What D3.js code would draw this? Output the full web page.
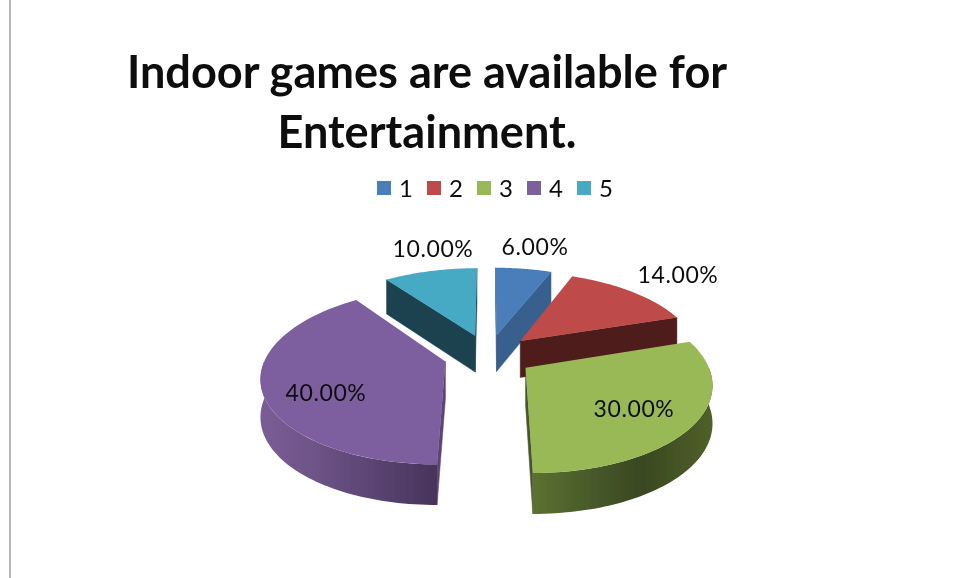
<!DOCTYPE html>
<html><head><meta charset="utf-8">
<script src="https://cdn.jsdelivr.net/npm/d3@7"></script>
<style>html,body{margin:0;padding:0;background:#fff;overflow:hidden}svg{display:block}text{font-family:Lato,"Open Sans",sans-serif;fill:#111}</style>
</head><body><svg id="c" width="958" height="578"></svg>
<script>
const titleLines = ["Indoor games are available for", "Entertainment."];
const categories = ["1", "2", "3", "4", "5"];
const values = [6, 14, 30, 40, 10];
const valueLabels = ["6.00%", "14.00%", "30.00%", "40.00%", "10.00%"];
const topColors = ["#4a7ebb", "#be4b48", "#98b954", "#7d5fa0", "#46aac5"];
const wallColors = ["#37608f", "#4f1c1a", "#46552a", "#5c4575", "#1c4350"];

// layout
const W = 958, H = 578;
const cx = 488.5, cy = 355, A = 179, B = 84, persp = 0.16, depth = 37, explode = 0.25;
const labelXY = [[535,247],[678,275],[634,409],[326,393],[433,249]];

const svg = d3.select("#c");
const defs = svg.append("defs");
defs.append("filter").attr("id","soft").append("feGaussianBlur").attr("stdDeviation",0.45);
function grad(id, stops){
  const g = defs.append("linearGradient").attr("id",id).attr("x1","0").attr("x2","1").attr("y1","0").attr("y2","0");
  stops.forEach(s=>g.append("stop").attr("offset",s[0]).attr("stop-color",s[1]));
}
grad("wall2",[[0,"#5c7130"],[0.35,"#46582a"],[0.6,"#3a4820"],[1,"#4f6029"]]);
grad("wall3",[[0,"#7a5d96"],[0.3,"#6e5488"],[0.65,"#5a4372"],[1,"#47345a"]]);

svg.append("line").attr("x1",10).attr("x2",10).attr("y1",0).attr("y2",H).attr("stroke","#a0a0a0").attr("stroke-width",1.5);

const chart = svg.append("g").attr("filter","url(#soft)");

// project plane coordinates (X right, Y far) to the screen
function proj(X, Y, dz){
  const s = 1/(1+persp*Y);
  return [cx + A*X*s, cy - B*Y*s + (dz||0)*Math.sqrt(s)];
}
const slices = d3.pie().sort(null).value(d=>d)(values);
const line = d3.line();
const order = [4,0,1,3,2];

order.forEach(i=>{
  const sl = slices[i], a0 = sl.startAngle, a1 = sl.endAngle, mid=(a0+a1)/2;
  const ox = explode*Math.sin(mid), oy = explode*Math.cos(mid);
  const P = (a,r,dz)=>proj(ox+r*Math.sin(a), oy+r*Math.cos(a), dz);
  const g = chart.append("g");
  const apex = P(0,0,0);
  // cut faces
  const drawCut = a => g.append("path")
     .attr("d", line([P(a,0,0),P(a,1,0),P(a,1,depth),P(a,0,depth)])+"Z")
     .attr("fill", wallColors[i]).attr("stroke",wallColors[i]).attr("stroke-width",0.5);
  if (P(a0,1,0)[0] < apex[0]-0.5) drawCut(a0);
  if (P(a1,1,0)[0] > apex[0]+0.5) drawCut(a1);
  // curved outer wall on the near half
  const lo = Math.max(a0, Math.PI/2), hi = Math.min(a1, Math.PI*1.5);
  if (hi > lo){
    const as = d3.range(0,61).map(k=>lo+(hi-lo)*k/60);
    const pts = as.map(a=>P(a,1,0)).concat(as.slice().reverse().map(a=>P(a,1,depth)));
    g.append("path").attr("d",line(pts)+"Z")
     .attr("fill", i===2 ? "url(#wall2)" : "url(#wall3)");
  }
  // top face
  const as = d3.range(0,61).map(k=>a0+(a1-a0)*k/60);
  g.append("path").attr("d",line([P(0,0,0)].concat(as.map(a=>P(a,1,0))))+"Z")
   .attr("fill",topColors[i]);
});

const textLayer = svg.append("g").attr("filter","url(#soft)");

// value labels
textLayer.append("g").selectAll("text").data(valueLabels).join("text")
  .attr("x",(d,i)=>labelXY[i][0]).attr("y",(d,i)=>labelXY[i][1]+8)
  .attr("text-anchor","middle").attr("font-size",23).attr("letter-spacing",0.6).text(d=>d);

// legend
const lx = d3.scalePoint().domain(categories).range([377,577]);
const lg = textLayer.append("g").selectAll("g").data(categories).join("g")
  .attr("transform",d=>`translate(${lx(d)},181)`);
lg.append("rect").attr("width",14).attr("height",14)
  .attr("fill",(d,i)=>topColors[i]);
lg.append("text").attr("x",22).attr("y",16).attr("font-size",24).text(d=>d);

// title
textLayer.append("g").selectAll("text").data(titleLines).join("text")
  .attr("x",427).attr("y",(d,i)=>88+i*60)
  .attr("text-anchor","middle").attr("font-size",45.1).attr("font-weight",700).text(d=>d);
</script></body></html>
